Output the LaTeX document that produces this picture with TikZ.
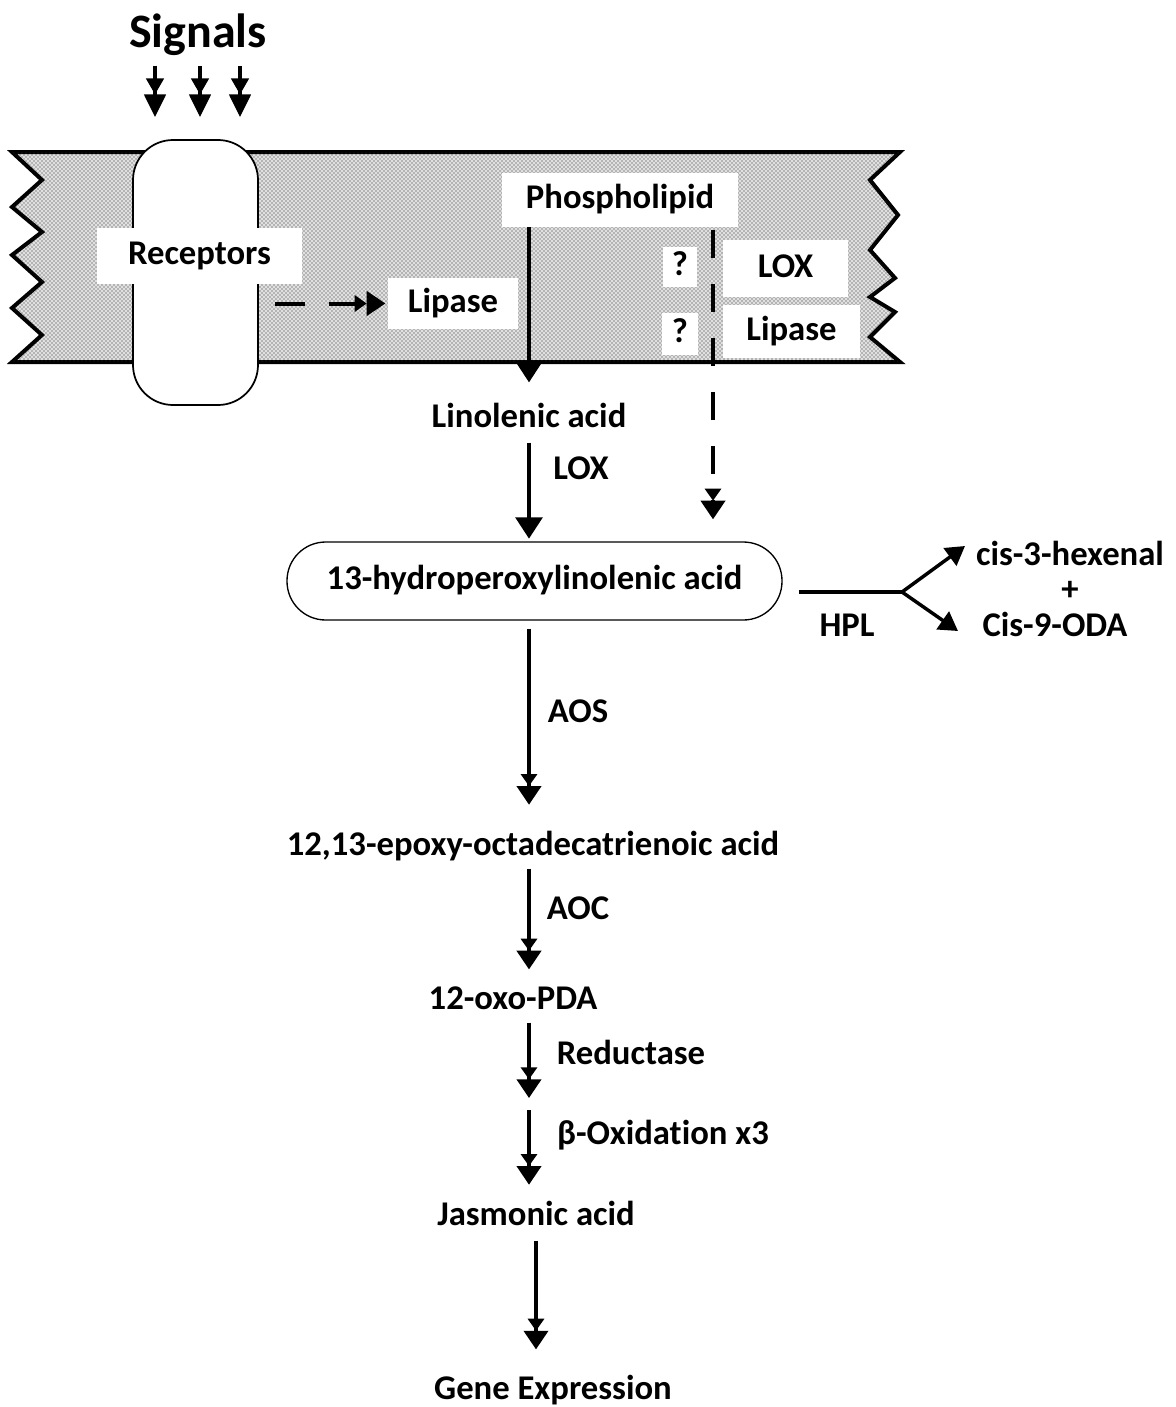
\documentclass[tikz,border=0pt]{standalone}
\usepackage{fontspec}
\setmainfont{Carlito}[Ligatures={NoCommon}]
\usetikzlibrary{arrows.meta,patterns}
\begin{document}
\begin{tikzpicture}[x=0.75pt,y=-0.75pt,
  txt/.style={font=\fontsize{26}{30}\selectfont\bfseries, inner sep=0pt, text height=18pt, text depth=5pt},
  wbox/.style={txt, fill=white},
  shead/.style={-{Triangle[width=20pt,length=16pt]}},
  dhead/.style={-{Triangle[width=12pt,length=9pt]Triangle[width=18pt,length=14pt]}},
  sighead/.style={-{Triangle[width=13pt,length=12pt]Triangle[width=16pt,length=17pt]}},
  flow/.style={line width=3pt},
]
\useasboundingbox (0,0) rectangle (1176,1407);
% membrane
\draw[line width=3pt, line join=miter, fill=black!12, postaction={pattern=crosshatch dots, pattern color=black!85}]
  (12,152) -- (900,152) -- (870,180) -- (898,215) -- (870,250) -- (895,278) -- (870,297)
  -- (895,312) -- (870,337) -- (900,362) -- (12,362) -- (42,335) -- (12,308) -- (42,282)
  -- (12,255) -- (42,232) -- (12,207) -- (42,180) -- cycle;
% receptor
\node (rec) [draw, line width=1.3pt, fill=white, rounded corners=30pt, minimum width=93.75pt, minimum height=198.75pt, inner sep=0pt] at (195.5,272.5) {};
% signals
\node (sig) [font=\fontsize{36}{40}\selectfont\bfseries, inner sep=0pt] at (198,35) {Signals};
\foreach \xx in {155,200,240}{
  \coordinate (sx) at (\xx,0);
  \draw[line width=2.5pt, sighead, shorten <=7pt, shorten >=16.5pt] (sig.south -| sx) -- (rec.north -| sx);
}
% membrane labels
\node[wbox, minimum width=153.75pt, minimum height=42pt] (reclab) at (199.5,256) {Receptors};
\node[wbox, minimum width=97pt, minimum height=38.25pt] (lip1) at (453,303.5) {Lipase};
\node[wbox, minimum width=177pt, minimum height=40.5pt] (phos) at (620,200) {Phospholipid};
\node[wbox, minimum width=25.5pt, minimum height=30pt] (q1) at (680,267) {?};
\node[wbox, minimum width=27pt, minimum height=31.5pt] (q2) at (680,334) {?};
\node[wbox, minimum width=93.75pt, minimum height=42.75pt] (lox1) at (785.5,268.5) {LOX};
\node[wbox, minimum width=102.75pt, minimum height=39.75pt] (lip2) at (791.5,331.5) {Lipase};
% pathway nodes
\node[txt] (lin) at (529,419) {Linolenic acid};
\node[txt] (lox2) at (581,471) {LOX};
\node[txt, draw, line width=1pt, rounded corners=29pt, minimum width=371.25pt, minimum height=58.5pt] (hpot) at (534.5,581) {13-hydroperoxylinolenic acid};
\node[txt] (aos) at (578,714) {AOS};
\node[txt] (epoxy) at (533,847) {12,13-epoxy-octadecatrienoic acid};
\node[txt] (aoc) at (578,911) {AOC};
\node[txt] (oxo) at (513,1001) {12-oxo-PDA};
\node[txt] (red) at (631,1056) {Reductase};
\node[txt] (box) at (663,1136) {β-Oxidation x3};
\node[txt] (jas) at (536,1217) {Jasmonic acid};
\node[txt] (gene) at (553,1391) {Gene Expression};
\node[txt] (hpl) at (847,628) {HPL};
\node[txt] (hex) at (1070,557) {cis-3-hexenal};
\node[font=\fontsize{26}{30}\selectfont\bfseries, inner sep=0pt] (plus) at (1070,591) {+};
\node[txt] (oda) at (1055,628) {Cis-9-ODA};
% connectors
\draw[flow, dhead, dash pattern=on 22.5pt off 18pt, shorten <=12pt, shorten >=2pt] (rec.east |- lip1.west) -- (lip1.west);
\draw[flow, shead, shorten >=15.75pt] (phos.south -| lin.north) -- (lin.north);
\coordinate (dx) at (713,0);
\draw[flow, dhead, dash pattern=on 21pt off 19.5pt, shorten <=2pt, shorten >=16.5pt] (phos.south -| dx) -- (hpot.north -| dx);
\draw[flow, shead, shorten <=6pt, shorten >=2pt] (lin.south) -- (lin.south |- hpot.north);
\draw[flow, dhead, shorten <=6pt, shorten >=20pt] (hpot.south -| lin) -- (epoxy.north -| lin);
\draw[flow, dhead, shorten <=4.5pt, shorten >=12pt] (epoxy.south -| lin) -- (oxo.north -| lin);
\coordinate (mid) at (529,1104);
\draw[flow, dhead, shorten <=4.5pt, shorten >=4.5pt] (oxo.south -| lin) -- (mid);
\draw[flow, dhead, shorten <=4.5pt, shorten >=12.5pt] (mid) -- (jas.north -| mid);
\draw[flow, dhead, shorten <=6pt, shorten >=19.5pt] (jas.south) -- (jas.south |- gene.north);
% HPL branch
\coordinate (fork) at (902,592);
\coordinate (t1) at (965,546);
\coordinate (t2) at (958,631);
\draw[flow, shorten <=12pt] (hpot.east |- fork) -- (fork);
\draw[line width=2.6pt, -{Triangle[width=16pt,length=14pt]}] (fork) -- (t1);
\draw[line width=2.6pt, -{Triangle[width=16pt,length=14pt]}] (fork) -- (t2);
\end{tikzpicture}
\end{document}
